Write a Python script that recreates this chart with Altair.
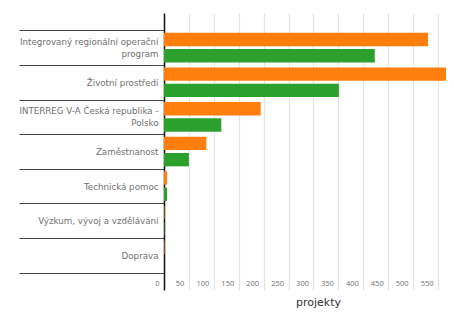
import altair as alt
import pandas as pd

categories = [
    "Integrovaný regionální operační|program",
    "Životní prostředí",
    "INTERREG V-A Česká republika -|Polsko",
    "Zaměstnanost",
    "Technická pomoc",
    "Výzkum, vývoj a vzdělávání",
    "Doprava",
]
series = ["Zahájené", "Ukončené"]
values_a = [530, 595, 194, 85, 6, 1, 1]
values_b = [423, 351, 115, 50, 6, 1, 0]
x_ticks = [0, 50, 100, 150, 200, 250, 300, 350, 400, 450, 500, 550, 600]

rows = []
for c, a, b in zip(categories, values_a, values_b):
    rows.append({"kategorie": c, "serie": series[0], "hodnota": a})
    rows.append({"kategorie": c, "serie": series[1], "hodnota": b})
df = pd.DataFrame(rows)

LABEL_FONT = "DejaVu Sans"
AXIS_FONT = "Open Sans"

chart = alt.Chart(df).mark_bar().encode(
    y=alt.Y(
        "kategorie:N",
        sort=categories,
        scale=alt.Scale(paddingInner=0, paddingOuter=0.5),
        axis=alt.Axis(
            title=None,
            tickBand="extent",
            tickSize=145,
            tickColor="#444444",
            tickWidth=1,
            labelPadding=-139,
            labelOffset={
                "condition": {"test": "indexof(datum.label, '|') >= 0", "value": -6},
                "value": 0,
            },
            domainColor="#111111",
            domainWidth=1.5,
            labelExpr="split(datum.label, '|')",
            labelFont=LABEL_FONT,
            labelFontSize=8.7,
            labelColor="#707070",
            labelAlign="right",
            labelBaseline="middle",
            labelLineHeight=12,
            labelLimit=0,
        ),
    ),
    yOffset=alt.YOffset(
        "serie:N", sort=series, scale=alt.Scale(paddingInner=0.18, paddingOuter=0.15)
    ),
    x=alt.X(
        "hodnota:Q",
        scale=alt.Scale(domain=[0, 566], nice=False),
        axis=alt.Axis(
            values=x_ticks,
            title="projekty",
            domain=False,
            ticks=False,
            grid=True,
            gridColor="#e3e3e3",
            gridWidth=1.2,
            labelAlign="right",
            labelBaseline="middle",
            labelPadding=-7,
            labelOffset=-5,
            labelFont=AXIS_FONT,
            labelFontSize=7.5,
            labelColor="#707070",
            labelFlush=False,
            labelOverlap=False,
            titleFont=LABEL_FONT,
            titleFontSize=11,
            titleFontWeight="normal",
            titleColor="#333333",
            titleX=154,
            titleY=12,
            titleBaseline="middle",
        ),
    ),
    color=alt.Color(
        "serie:N",
        sort=series,
        scale=alt.Scale(domain=series, range=["#ff7f0e", "#2ca02c"]),
        legend=None,
    ),
).properties(
    width=282,
    height=277,
    autosize=alt.AutoSizeParams(type="none"),
    padding={"left": 156, "top": 5, "right": 0, "bottom": 22},
).configure_view(stroke=None)

chart.save("out.html", embed_options={"renderer": "svg", "actions": False})
